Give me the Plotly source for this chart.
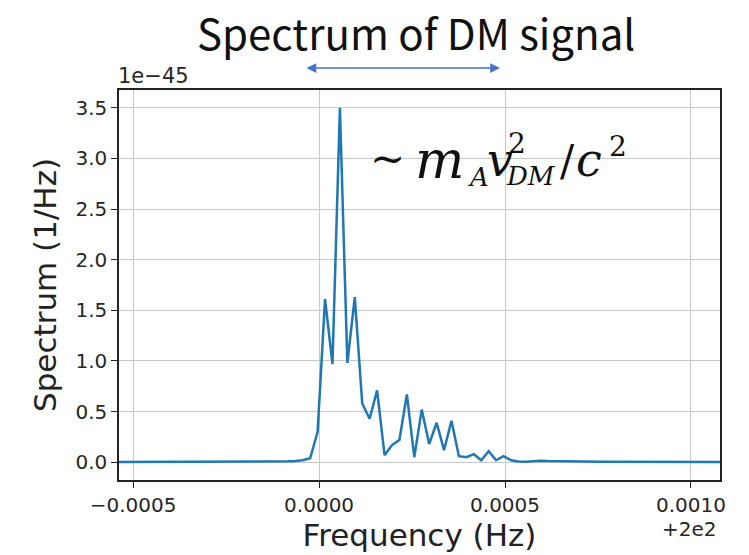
import plotly.graph_objects as go

# Frequency offsets (Hz) relative to 200 Hz (axis offset "+2e2")
FREQ_OFFSET_HZ = [
    -0.000584, -0.000564, -0.000544, -0.000524, -0.000504, -0.000484, -0.000464,
    -0.000444, -0.000424, -0.000404, -0.000384, -0.000364, -0.000344, -0.000324,
    -0.000304, -0.000284, -0.000264, -0.000244, -0.000224, -0.000204, -0.000184,
    -0.000164, -0.000144, -0.000124, -0.000104, -0.000084, -0.000064, -0.000044,
    -0.000024, -0.000004,
    0.000016, 0.000036, 0.000056, 0.000076, 0.000096, 0.000116, 0.000136, 0.000156,
    0.000176, 0.000196, 0.000216, 0.000236, 0.000256, 0.000276, 0.000296, 0.000316,
    0.000336, 0.000356, 0.000376, 0.000396, 0.000416, 0.000436, 0.000456, 0.000476,
    0.000496, 0.000516, 0.000536, 0.000556, 0.000576, 0.000596, 0.000616, 0.000636,
    0.000656, 0.000676, 0.000696, 0.000716, 0.000736, 0.000756, 0.000776, 0.000796,
    0.000816, 0.000836, 0.000856, 0.000876, 0.000896, 0.000916, 0.000936, 0.000956,
    0.000976, 0.000996, 0.001016, 0.001036, 0.001056, 0.001076, 0.001096, 0.001116,
]

# Spectrum in units of 1e-45 1/Hz
SPECTRUM_E45 = [
    0.003, 0.003, 0.003, 0.003, 0.003, 0.003, 0.003, 0.003, 0.003, 0.003, 0.003,
    0.003, 0.003, 0.003, 0.003, 0.003, 0.003, 0.003, 0.003, 0.003, 0.003,
    0.004, 0.005, 0.006, 0.008, 0.010, 0.013, 0.020, 0.040, 0.30,
    1.61, 0.97, 3.50, 0.98, 1.63, 0.58, 0.43, 0.71, 0.07, 0.17, 0.22, 0.67,
    0.05, 0.52, 0.18, 0.39, 0.12, 0.41, 0.06, 0.05, 0.08, 0.02, 0.11, 0.02,
    0.06, 0.02, 0.008, 0.005, 0.010, 0.015, 0.012, 0.010, 0.008, 0.006, 0.006,
    0.005, 0.005, 0.005, 0.004, 0.004, 0.004, 0.004, 0.003, 0.003, 0.003,
    0.003, 0.003, 0.003, 0.003, 0.003, 0.003, 0.003, 0.003, 0.003, 0.003, 0.003,
]

X_TICKS = [-0.0005, 0.0, 0.0005, 0.0010]
X_TICK_LABELS = ["\u22120.0005", "0.0000", "0.0005", "0.0010"]
Y_TICKS = [0.0, 0.5, 1.0, 1.5, 2.0, 2.5, 3.0, 3.5]
Y_TICK_LABELS = ["0.0", "0.5", "1.0", "1.5", "2.0", "2.5", "3.0", "3.5"]

# The page body adds an 8px offset; the figure is sized to compensate.
BODY = 8
W, H = 749, 555
ML, MR, MT, MB = 119, 29, 90, 75
PW, PH = W - ML - MR, H - MT - MB


def px(x):
    return (x - ML) / PW


def py(y):
    return (H - MB - y) / PH


fig = go.Figure()
fig.add_trace(go.Scatter(
    x=FREQ_OFFSET_HZ, y=SPECTRUM_E45, mode="lines",
    line=dict(color="#1f77b4", width=2.5), showlegend=False,
))

axis_common = dict(
    showline=True, linecolor="#222222", linewidth=1.5, mirror=True,
    showgrid=True, gridcolor="#c8c8c8", gridwidth=1.3,
    ticks="outside", ticklen=6, tickwidth=1.3, tickcolor="#222222",
    zeroline=False,
    tickfont=dict(family="DejaVu Sans", size=20, color="#262626"),
)

fig.update_xaxes(
    range=[-0.000538, 0.001078], tickvals=X_TICKS, ticktext=X_TICK_LABELS,
    title=dict(text="Frequency (Hz)", font=dict(family="DejaVu Sans", size=31, color="#222222"),
               standoff=4),
    **axis_common,
)
fig.update_yaxes(
    range=[-0.175, 3.675], tickvals=Y_TICKS, ticktext=Y_TICK_LABELS,
    title=dict(text="Spectrum (1/Hz)", font=dict(family="DejaVu Sans", size=31, color="#222222"),
               standoff=10),
    **axis_common,
)

ann = []
# offset texts
ann.append(dict(x=px(116), y=py(76), xref="paper", yref="paper", text="1e\u221245",
                showarrow=False, xanchor="left", yanchor="middle",
                font=dict(family="DejaVu Sans", size=21, color="#262626")))
ann.append(dict(x=px(719), y=py(529), xref="paper", yref="paper", text="+2e2",
                showarrow=False, xanchor="right", yanchor="middle",
                font=dict(family="DejaVu Sans", size=20, color="#262626")))
# title
ann.append(dict(x=px(416), y=py(31), xref="paper", yref="paper", text="Spectrum of DM signal",
                showarrow=False, xanchor="center", yanchor="middle",
                font=dict(family="Noto Sans CJK JP", size=42, color="#111111")))
# double arrow
ann.append(dict(x=px(500), y=py(68), xref="paper", yref="paper", text="",
                showarrow=True, ax=-195, ay=0, axref="pixel", ayref="pixel",
                arrowside="end+start", arrowhead=2, arrowsize=1.3, arrowwidth=1.5,
                arrowcolor="#4472C4", standoff=0, startstandoff=0))

MF = "DejaVu Serif"


def piece(text, cx, cy, size, anchor="left"):
    ann.append(dict(x=px(cx), y=py(cy), xref="paper", yref="paper", text=text,
                    showarrow=False, xanchor=anchor, yanchor="middle",
                    font=dict(family=MF, size=size, color="#111111")))


piece("~", 387, 158, 42, "center")
piece("<i>m</i>", 413, 160, 52)
piece("<i>A</i>", 466, 177, 26)
piece("<i>v</i>", 485, 160, 46)
piece("2", 506, 144, 28)
piece("<i>DM</i>", 504, 176, 26)
piece("/", 558, 160, 42)
piece("<i>c</i>", 574, 160, 46)
piece("2", 607, 146, 28)

fig.update_layout(
    width=W - BODY, height=H - BODY,
    margin=dict(l=ML - BODY, r=MR, t=MT - BODY, b=MB),
    paper_bgcolor="white", plot_bgcolor="white",
    annotations=ann,
)

fig.write_html("out.html")
